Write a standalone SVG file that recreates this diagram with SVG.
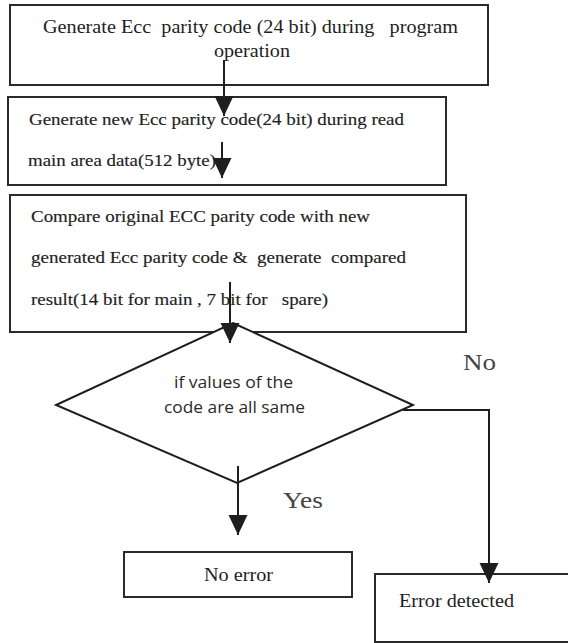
<svg xmlns="http://www.w3.org/2000/svg" width="568" height="643" viewBox="0 0 568 643">
<style>
.box{fill:#fff;stroke:#2a2a2a;stroke-width:2}
.ser{font-family:"Liberation Serif","Times New Roman",serif;fill:#1e1e1e}
.semi{stroke:#1e1e1e;stroke-width:0.15}
.sans{font-family:"Open Sans","Noto Sans",sans-serif;fill:#2a2a2a}
.lbl{font-family:"Liberation Serif","Times New Roman",serif;fill:#444;font-size:24px}
.con{fill:none;stroke:#1e1e1e;stroke-width:2}
</style>
<defs>
<marker id="ah" markerUnits="userSpaceOnUse" markerWidth="20" markerHeight="20" viewBox="0 0 19 18" refX="19" refY="9" orient="auto">
<path d="M0,0 L19,9 L0,18 Z" fill="#1e1e1e"/>
</marker>
</defs>
<rect width="568" height="643" fill="#fff"/>
<g id="n1">
<rect class="box" x="10" y="5" width="478" height="80"/>
<text class="ser" x="43" y="33" font-size="18" textLength="415" lengthAdjust="spacingAndGlyphs" xml:space="preserve">Generate Ecc  parity code (24 bit) during   program</text>
<text class="ser" x="214" y="57" font-size="18" textLength="76" lengthAdjust="spacingAndGlyphs">operation</text>
</g>
<g id="n2">
<rect class="box" x="8" y="97" width="438" height="88"/>
<text class="ser semi" x="29" y="125" font-size="16" textLength="375" lengthAdjust="spacingAndGlyphs">Generate new Ecc parity code(24 bit) during read</text>
<text class="ser semi" x="28" y="166" font-size="16" textLength="188" lengthAdjust="spacingAndGlyphs">main area data(512 byte)</text>
</g>
<g id="n3">
<rect class="box" x="10" y="195" width="456" height="137"/>
<text class="ser semi" x="31" y="222" font-size="16" textLength="339" lengthAdjust="spacingAndGlyphs">Compare original ECC parity code with new</text>
<text class="ser semi" x="31" y="263" font-size="16" textLength="375" lengthAdjust="spacingAndGlyphs" xml:space="preserve">generated Ecc parity code &amp;  generate  compared</text>
<text class="ser semi" x="31" y="305" font-size="16" textLength="297" lengthAdjust="spacingAndGlyphs" xml:space="preserve">result(14 bit for main , 7 bit for   spare)</text>
</g>
<g id="n4">
<polygon points="233,323 413,405 237,483 56,405" fill="#fff" stroke="#1e1e1e" stroke-width="2" stroke-linejoin="miter"/>
<text class="sans" x="174" y="388" font-size="16" textLength="119" lengthAdjust="spacingAndGlyphs">if values of the</text>
<text class="sans" x="164" y="413" font-size="16" textLength="141" lengthAdjust="spacingAndGlyphs">code are all same</text>
</g>
<g id="n5">
<rect class="box" x="124" y="552" width="228" height="45"/>
<text class="ser" x="204" y="581" font-size="19" textLength="69" lengthAdjust="spacingAndGlyphs">No error</text>
</g>
<g id="n6">
<rect class="box" x="375" y="574" width="210" height="68"/>
<text class="ser" x="399" y="607" font-size="19" textLength="115" lengthAdjust="spacingAndGlyphs">Error detected</text>
</g>
<g id="connectors">
<line class="con" x1="224" y1="60" x2="224" y2="116" marker-end="url(#ah)"/>
<line class="con" x1="222" y1="142" x2="222" y2="178" marker-end="url(#ah)"/>
<line class="con" x1="230" y1="282" x2="230" y2="343" marker-end="url(#ah)"/>
<line class="con" x1="238" y1="466" x2="238" y2="535" marker-end="url(#ah)"/>
<polyline class="con" points="403,410 489,410 489,583" marker-end="url(#ah)"/>
<text class="lbl" x="463" y="370" textLength="33" lengthAdjust="spacingAndGlyphs">No</text>
<text class="lbl" x="283" y="508" textLength="40" lengthAdjust="spacingAndGlyphs">Yes</text>
</g>
</svg>
